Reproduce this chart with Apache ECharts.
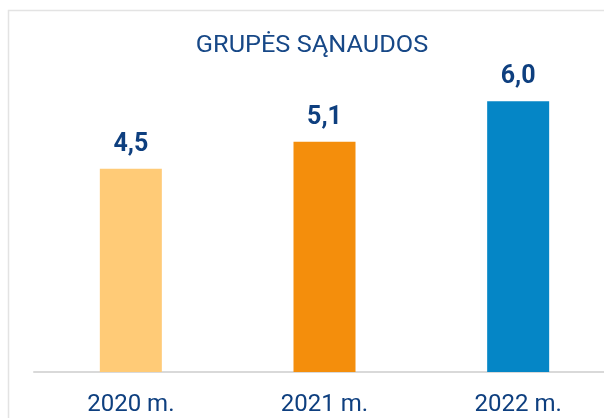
<!DOCTYPE html>
<html>
<head>
<meta charset="utf-8">
<script src="https://cdn.jsdelivr.net/npm/echarts@6/dist/echarts.min.js"></script>
<style>
html, body { margin: 0; padding: 0; background: #fff; }
#chart { width: 604px; height: 418px; }
</style>
</head>
<body>
<div id="chart"></div>
<script>
// duomenys
var years = ['2020 m.', '2021 m.', '2022 m.'];
var values = [4.5, 5.1, 6.0];
var colors = ['#FFCB77', '#F48E0C', '#0586C6'];
var titleText = 'GRUPĖS SĄNAUDOS';

var txtColor = '#0E3F7F';

var myChart = echarts.init(document.getElementById('chart'));
var option = {
	backgroundColor: '#fff',
	graphic: [{
		type: 'rect',
		shape: { x: 8.5, y: 10.5, width: 700, height: 500 },
		style: { fill: 'none', stroke: '#e3e3e3', lineWidth: 1.5 },
		silent: true
	}, {
		// pavadinimas
		type: 'text',
		x: 312,
		y: 46,
		scaleX: 1.1,
		style: {
			text: titleText,
			fontFamily: 'Roboto',
			fontSize: 23,
			fill: '#174887',
			align: 'center',
			verticalAlign: 'middle'
		},
		silent: true
	}],
	grid: {
		left: 34,
		width: 581,
		top: 56,
		height: 316,
		outerBoundsMode: 'none',
		containLabel: false
	},
	xAxis: {
		type: 'category',
		data: years,
		axisTick: { show: false },
		axisLine: { lineStyle: { color: '#d9d9d9', width: 2 } },
		axisLabel: {
			margin: 21,
			fontFamily: 'Roboto',
			fontSize: 24,
			color: txtColor
		}
	},
	yAxis: {
		type: 'value',
		min: 0,
		max: 7,
		show: false,
		splitLine: { show: false }
	},
	series: [{
		type: 'bar',
		barWidth: 62,
		data: values.map(function (v, i) {
			return { value: v, itemStyle: { color: colors[i] } };
		}),
		label: {
			show: true,
			position: 'top',
			distance: 12,
			fontFamily: 'Roboto',
			fontWeight: 'bold',
			fontSize: 25,
			color: txtColor,
			formatter: function (p) {
				return p.value.toFixed(1).replace('.', ',');
			}
		}
	}]
};
myChart.setOption(option);
</script>
</body>
</html>
